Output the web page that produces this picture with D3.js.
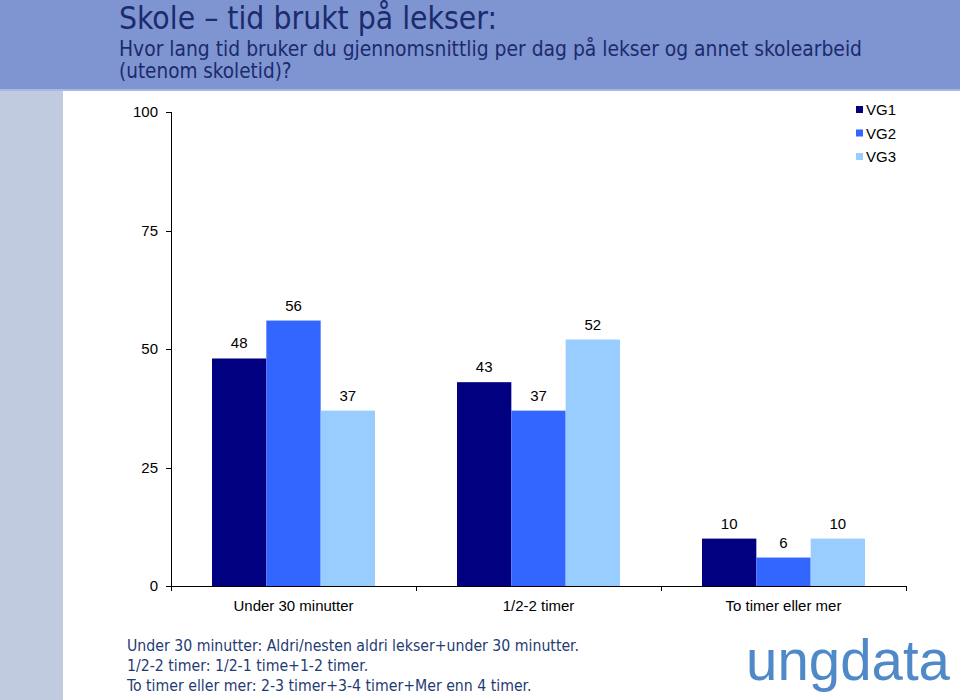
<!DOCTYPE html>
<html lang="no">
<head>
<meta charset="UTF-8"/>
<title>Skole – tid brukt på lekser</title>
<script src="https://d3js.org/d3.v7.min.js"></script>
<style>
    body { margin: 0; background: #fff; }
    text { font-family: Arial, "Liberation Sans", sans-serif; }
    .axis path, .axis line { stroke: #000; shape-rendering: crispEdges; }
    .axis text { font-size: 15px; fill: #000; font-family: Arial, "Liberation Sans", sans-serif; }
    .head { font-family: "DejaVu Sans Condensed", "DejaVu Sans", sans-serif; fill: #1c2a6e; }
    .note { font-family: "DejaVu Sans Condensed", "DejaVu Sans", sans-serif; fill: #1f3b73; font-size: 15.7px; }
</style>
</head>
<body>
<svg width="960" height="700"></svg>
<script>

    let categories = ["Under 30 minutter", "1/2-2 timer", "To timer eller mer"];
    let seriesNames = ["VG1", "VG2", "VG3"];
    let vg1 = [48, 43, 10];
    let vg2 = [56, 37, 6];
    let vg3 = [37, 52, 10];
    let yTicks = [0, 25, 50, 75, 100];
    let notes = [
        "Under 30 minutter: Aldri/nesten aldri lekser+under 30 minutter.",
        "1/2-2 timer: 1/2-1 time+1-2 timer.",
        "To timer eller mer: 2-3 timer+3-4 timer+Mer enn 4 timer."
    ];

    let colors = ["#000080", "#3366ff", "#99ccff"];
    let series = [vg1, vg2, vg3];

    let svg = d3.select("svg");

    // bakgrunn
    svg.append("rect").attr("x", 0).attr("y", 0).attr("width", 960).attr("height", 700).attr("fill", "#fff");
    svg.append("rect").attr("x", 0).attr("y", 88).attr("width", 63).attr("height", 612).attr("fill", "#c1cbdf");
    svg.append("rect").attr("x", 0).attr("y", 0).attr("width", 960).attr("height", 89).attr("fill", "#7f95d1");
    svg.append("rect").attr("x", 0).attr("y", 89).attr("width", 960).attr("height", 2).attr("fill", "#a9b7e2");

    svg.append("text").attr("class", "head").attr("x", 119).attr("y", 29)
        .attr("font-size", 32).attr("textLength", 378).attr("lengthAdjust", "spacingAndGlyphs")
        .text("Skole – tid brukt på lekser:");
    svg.append("text").attr("class", "head").attr("x", 119).attr("y", 56)
        .attr("font-size", 20.5).attr("textLength", 743).attr("lengthAdjust", "spacingAndGlyphs")
        .text("Hvor lang tid bruker du gjennomsnittlig per dag på lekser og annet skolearbeid");
    svg.append("text").attr("class", "head").attr("x", 119).attr("y", 78)
        .attr("font-size", 20.5).text("(utenom skoletid)?");

    let plotLeft = 171, plotRight = 906, plotTop = 112, plotBottom = 586;

    let x0 = d3.scaleBand().domain(categories).range([plotLeft, plotRight]).paddingInner(0).paddingOuter(0);
    let x1 = d3.scaleBand().domain(seriesNames).range([41, x0.bandwidth() - 41]);
    let y = d3.scaleLinear().domain([0, 100]).range([plotBottom, plotTop]);

    let g = svg.append("g");

    categories.forEach(function(c, i) {
        let grp = g.append("g").attr("transform", "translate(" + x0(c) + ",0)");
        seriesNames.forEach(function(s, j) {
            let v = series[j][i];
            grp.append("rect")
                .attr("x", x1(s))
                .attr("y", y(v))
                .attr("width", x1.bandwidth())
                .attr("height", y(0) - y(v))
                .attr("fill", colors[j]);
            grp.append("text")
                .attr("x", x1(s) + x1.bandwidth() / 2)
                .attr("y", y(v) - 10)
                .attr("text-anchor", "middle")
                .attr("font-size", 15)
                .text(v);
        });
    });

    let yAxis = svg.append("g").attr("class", "axis")
        .attr("transform", "translate(" + plotLeft + ",0)")
        .call(d3.axisLeft(y).tickValues(yTicks).tickSize(5).tickPadding(8));
    yAxis.select(".domain").attr("d", "M-5," + plotTop + "H0V" + plotBottom);

    let xAxis = svg.append("g").attr("class", "axis")
        .attr("transform", "translate(0," + plotBottom + ")")
        .call(d3.axisBottom(x0).tickSize(0).tickPadding(11));
    xAxis.select(".domain").attr("d", "M" + plotLeft + ",0H" + plotRight);
    xAxis.selectAll(".tick text").attr("dy", "0.9em");
    let bounds = categories.map(function(c) { return x0(c); }).concat([plotRight]);
    xAxis.selectAll(".sep").data(bounds).enter().append("line")
        .attr("x1", function(d) { return d; }).attr("x2", function(d) { return d; })
        .attr("y1", 0).attr("y2", 5).attr("stroke", "#000");

    // legende
    let leg = svg.append("g").attr("transform", "translate(856,110)");
    seriesNames.forEach(function(s, j) {
        leg.append("rect").attr("x", 0).attr("y", j * 23.5 - 4).attr("width", 7).attr("height", 7).attr("fill", colors[j]);
        leg.append("text").attr("x", 10).attr("y", j * 23.5 + 5).attr("font-size", 15).text(s);
    });

    // forklaring
    notes.forEach(function(n, i) {
        svg.append("text").attr("class", "note").attr("x", 127).attr("y", 651 + i * 20).text(n);
    });

    // logo
    svg.append("text").attr("x", 746).attr("y", 680)
        .attr("font-family", "'DejaVu Sans', sans-serif")
        .attr("font-size", 58)
        .attr("fill", "#5089c8")
        .attr("textLength", 204)
        .attr("lengthAdjust", "spacingAndGlyphs")
        .text("ungdata");

</script>
</body>
</html>
